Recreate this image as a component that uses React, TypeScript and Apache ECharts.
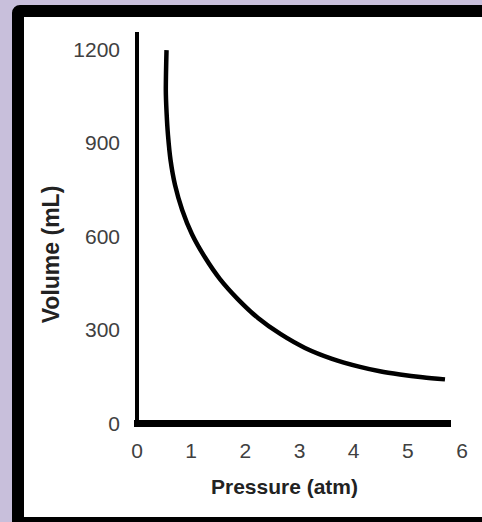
import React, { useEffect, useRef } from "react";
import * as echarts from "echarts";

const pressure: number[] = [
  0.545, 0.532, 0.546, 0.572, 0.62, 0.702, 0.834, 1.015, 1.254, 1.532, 1.865, 2.234, 2.653, 3.102, 3.602,
  4.117, 4.484, 4.855, 5.271, 5.686,
];
const volume: number[] = [
  1197, 1068, 996, 924, 843, 764, 684, 606, 532, 462, 397, 337, 285, 241, 206, 180, 166, 156, 147, 140,
];
const xTicks = { min: 0, max: 6, interval: 1 };
const yTicks = { min: 0, max: 1255, interval: 300 };
const xName = "Pressure (atm)";
const yName = "Volume (mL)";

export default function App() {
  const ref = useRef<HTMLDivElement>(null);
  useEffect(() => {
    if (!ref.current) return;
    const chart = echarts.init(ref.current, undefined, { renderer: "svg" });
    const font = "'Liberation Sans', Arial, sans-serif";
    chart.setOption({
      animation: false,
      grid: [
        { left: 137, right: 20, top: 32, bottom: 99 },
        { left: 134, right: 31, top: 32, bottom: 99 },
      ],
      xAxis: [
        {
          type: "value",
          gridIndex: 0,
          min: xTicks.min,
          max: xTicks.max,
          interval: xTicks.interval,
          axisLine: { show: false },
          axisTick: { show: false },
          splitLine: { show: false },
          axisLabel: { margin: 17, fontSize: 21, color: "#404040", fontFamily: font },
          name: xName,
          nameLocation: "middle",
          nameGap: 53,
          nameTextStyle: {
            fontSize: 21,
            fontWeight: "bold",
            color: "#222",
            fontFamily: font,
            padding: [0, 30, 0, 0],
          },
        },
        {
          type: "value",
          gridIndex: 1,
          min: 0,
          max: 1,
          axisLine: { show: true, lineStyle: { color: "#000", width: 7, cap: "butt" } },
          axisTick: { show: false },
          axisLabel: { show: false },
          splitLine: { show: false },
        },
      ],
      yAxis: [
        {
          type: "value",
          gridIndex: 0,
          min: yTicks.min,
          max: yTicks.max,
          interval: yTicks.interval,
          axisLine: { show: true, lineStyle: { color: "#000", width: 4, cap: "butt" } },
          axisTick: { show: false },
          splitLine: { show: false },
          axisLabel: {
            margin: 17,
            fontSize: 21,
            color: "#404040",
            fontFamily: font,
            formatter: (v: number) => (v % yTicks.interval === 0 ? String(v) : ""),
          },
          name: yName,
          nameLocation: "middle",
          nameGap: 74,
          nameTextStyle: {
            fontSize: 23,
            fontWeight: "bold",
            color: "#222",
            fontFamily: font,
            padding: [0, 54, 0, 0],
          },
        },
        { type: "value", gridIndex: 1, show: false, min: 0, max: 1 },
      ],
      series: [
        {
          type: "line",
          xAxisIndex: 0,
          yAxisIndex: 0,
          data: pressure.map((p, i) => [p, volume[i]]),
          smooth: 0.3,
          showSymbol: false,
          symbol: "none",
          lineStyle: { color: "#000", width: 4.5, cap: "butt" },
        },
      ],
    });
    return () => chart.dispose();
  }, []);

  return (
    <div
      style={{
        position: "fixed",
        left: 0,
        top: 0,
        width: 482,
        height: 522,
        background: "#c8bfdb",
        overflow: "hidden",
      }}
    >
      <div
        style={{
          position: "absolute",
          left: 12,
          top: 5,
          width: 500,
          height: 524,
          boxSizing: "border-box",
          border: "12px solid #000",
          borderRadius: 8,
          background: "#fff",
        }}
      />
      <div ref={ref} style={{ position: "absolute", left: 0, top: 0, width: 482, height: 522 }} />
    </div>
  );
}
